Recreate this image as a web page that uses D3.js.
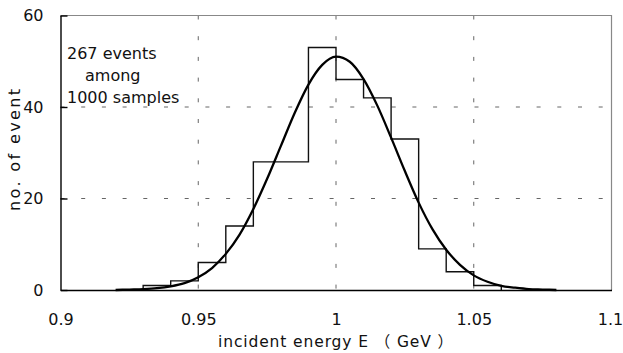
<!DOCTYPE html>
<html>
<head>
<meta charset="utf-8">
<script src="https://cdn.jsdelivr.net/npm/d3@7"></script>
<style>
  body { margin: 0; background: #fff; }
  text { font-family: "DejaVu Sans", "Noto Sans CJK JP", sans-serif; fill: #111; }
</style>
</head>
<body>
<div id="chart"></div>
<script>
// histogram: left edge of each 0.01 bin and its count
var bin_starts = [0.93, 0.94, 0.95, 0.96, 0.97, 0.98, 0.99, 1.00, 1.01, 1.02, 1.03, 1.04, 1.05];
var bin_counts = [1, 2, 6, 14, 28, 28, 53, 46, 42, 33, 9, 4, 1];
var bin_width = 0.01;

// fitted curve
var curve_x = [0.92, 0.925, 0.93, 0.935, 0.94, 0.945, 0.95, 0.955, 0.96, 0.965, 0.97, 0.975, 0.98, 0.985, 0.99, 0.995,
  1.0, 1.005, 1.01, 1.015, 1.02, 1.025, 1.03, 1.035, 1.04, 1.045, 1.05, 1.055, 1.06, 1.065, 1.07, 1.075, 1.08];
var curve_y = [0.0, 0.1, 0.2, 0.4, 0.8, 1.5, 2.8, 4.8, 7.9, 12.1, 17.7, 24.3, 31.5, 38.7, 44.9, 49.2,
  51.0, 49.9, 46.1, 40.3, 33.3, 26.0, 19.1, 13.3, 8.8, 5.5, 3.2, 1.8, 0.9, 0.5, 0.2, 0.1, 0.0];

var x_ticks = [0.9, 0.95, 1, 1.05, 1.1];
var y_ticks = [0, 20, 40, 60];
var x_grid = [0.95, 1, 1.05];
var y_grid = [20, 40];
var note_lines = ['267 events', 'among', '1000 samples'];

var chart_width = 623;
var chart_height = 353;
var plot_left = 60.5, plot_right = 611.5, plot_top = 15.5, plot_bottom = 290;

var svg = d3.select('#chart')
  .append('svg')
  .attr('width', chart_width)
  .attr('height', chart_height);

var x_scale = d3.scaleLinear().domain([0.9, 1.1]).range([plot_left, plot_right]);
var y_scale = d3.scaleLinear().domain([0, 60]).range([plot_bottom, plot_top]);

// grid
svg.selectAll('.vgrid')
  .data(x_grid)
  .enter()
  .append('line')
  .attr('x1', function(d) { return x_scale(d); })
  .attr('x2', function(d) { return x_scale(d); })
  .attr('y1', plot_top)
  .attr('y2', plot_bottom)
  .attr('stroke', '#666')
  .attr('stroke-width', 1)
  .attr('stroke-dasharray', '4,16.7');

svg.selectAll('.hgrid')
  .data(y_grid)
  .enter()
  .append('line')
  .attr('x1', plot_left)
  .attr('x2', plot_right)
  .attr('y1', function(d) { return y_scale(d); })
  .attr('y2', function(d) { return y_scale(d); })
  .attr('stroke', '#666')
  .attr('stroke-width', 1)
  .attr('stroke-dasharray', '4,16.7');

// frame: top/right grey, left/bottom black
svg.append('path')
  .attr('d', 'M' + plot_left + ',' + plot_top + 'H' + plot_right + 'V' + plot_bottom)
  .attr('fill', 'none')
  .attr('stroke', '#888')
  .attr('stroke-width', 1.2);

// histogram as a step outline (envelope only)
var hist_pts = [[bin_starts[0], 0]];
bin_starts.forEach(function(s, i) {
  hist_pts.push([s, bin_counts[i]]);
  hist_pts.push([s + bin_width, bin_counts[i]]);
});
hist_pts.push([bin_starts[bin_starts.length - 1] + bin_width, 0]);
svg.append('path')
  .datum(hist_pts)
  .attr('d', d3.line()
    .x(function(d) { return x_scale(d[0]); })
    .y(function(d) { return y_scale(d[1]); }))
  .attr('fill', 'none')
  .attr('stroke', '#111')
  .attr('stroke-width', 1.4);

// fitted curve
svg.append('path')
  .datum(d3.zip(curve_x, curve_y))
  .attr('d', d3.line()
    .curve(d3.curveMonotoneX)
    .x(function(d) { return x_scale(d[0]); })
    .y(function(d) { return y_scale(d[1]); }))
  .attr('fill', 'none')
  .attr('stroke', '#000')
  .attr('stroke-width', 2.3);

// axes
var y_axis = d3.axisLeft(y_scale)
  .tickValues(y_ticks)
  .tickSizeInner(-7)
  .tickSizeOuter(0)
  .tickPadding(17);
var gy = svg.append('g')
  .attr('transform', 'translate(' + plot_left + ',0)')
  .call(y_axis);

var x_axis = d3.axisBottom(x_scale)
  .tickValues(x_ticks)
  .tickFormat(function(d) { return String(d); })
  .tickSizeInner(0)
  .tickSizeOuter(0)
  .tickPadding(24);
var gx = svg.append('g')
  .attr('transform', 'translate(0,' + plot_bottom + ')')
  .call(x_axis);

[gx, gy].forEach(function(g) {
  g.select('.domain').attr('stroke', '#000').attr('stroke-width', 1.4);
  g.selectAll('.tick line').attr('stroke', '#000').attr('stroke-width', 1.4);
  g.selectAll('.tick text')
    .attr('font-size', 16)
    .attr('font-family', '"DejaVu Sans", sans-serif')
    .attr('fill', '#111');
});
// keep the last x label inside the picture
gx.selectAll('.tick text')
  .filter(function(d) { return d === 1.1; })
  .attr('dx', -1.5);

// axis titles
svg.append('text')
  .text('incident energy E （ GeV ）')
  .attr('x', 218)
  .attr('y', 347)
  .attr('textLength', 235)
  .attr('lengthAdjust', 'spacing')
  .attr('font-size', 15.5);

svg.append('text')
  .text('no. of event')
  .attr('transform', 'translate(20,211) rotate(-90)')
  .attr('textLength', 122)
  .attr('lengthAdjust', 'spacing')
  .attr('font-size', 16);

// note
svg.selectAll('.note')
  .data(note_lines)
  .enter()
  .append('text')
  .text(function(d) { return d; })
  .attr('x', function(d, i) { return i === 1 ? 85 : 67; })
  .attr('y', function(d, i) { return 59 + i * 22.2; })
  .attr('font-size', 16);
</script>
</body>
</html>
